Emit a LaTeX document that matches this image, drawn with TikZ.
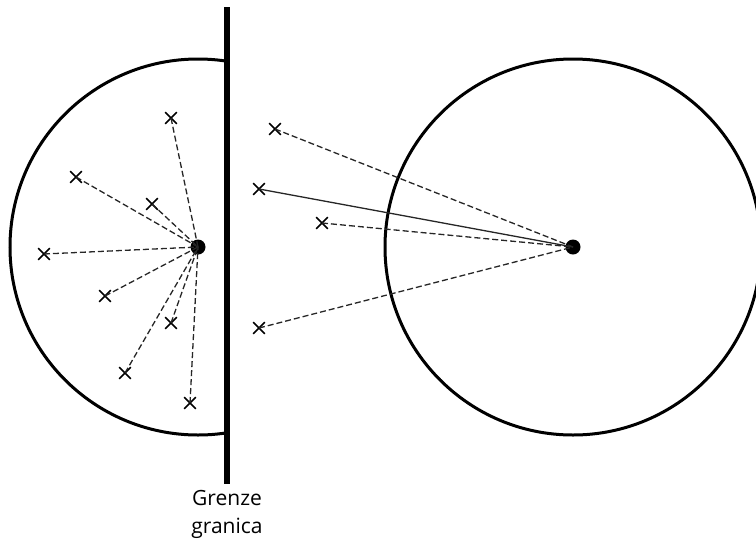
\documentclass[tikz,border=0pt]{standalone}
\usepackage{fontspec}
\setmainfont{Open Sans}
\usetikzlibrary{positioning,shapes.misc}
\tikzset{
    mark x/.style={cross out,draw,line width=1.7pt,minimum size=10pt,inner sep=0pt},
    centre dot/.style={circle,fill,inner sep=0pt,minimum size=15pt},
    ray/.style={dash pattern=on 6pt off 3pt,line width=1.3pt,draw=black!85},
    zone/.style={line width=3pt},
    boundary/.style={line width=6pt},
}
\begin{document}
\begin{tikzpicture}[x=1pt,y=-1pt]
    \useasboundingbox (0,0) rectangle (756,547);

    % centres
    \node[centre dot] (lc) at (198,247) {};
    \node[centre dot] (rc) at (573,247) {};

    % points on the near side
    \node[mark x] (l1) at (171,118) {};
    \node[mark x] (l2) at (76,177) {};
    \node[mark x] (l3) at (152,204) {};
    \node[mark x] (l4) at (44,254) {};
    \node[mark x] (l5) at (105,296) {};
    \node[mark x] (l6) at (171,323) {};
    \node[mark x] (l7) at (125,373) {};
    \node[mark x] (l8) at (190,403) {};

    % points across the border
    \node[mark x] (r1) at (275,129) {};
    \node[mark x] (r2) at (259,189) {};
    \node[mark x] (r3) at (322,223) {};
    \node[mark x] (r4) at (259,328) {};

    % circles
    \begin{scope}
        \clip (0,0) rectangle (227,547);
        \draw[zone] (lc.center) circle[radius=188pt];
    \end{scope}
    \draw[zone] (rc.center) circle[radius=188pt];

    % rays
    \foreach \p in {l1,l2,l3,l4,l5,l6,l7,l8}
        \draw[ray] (\p.center) -- (lc.center);
    \foreach \p in {r1,r3,r4}
        \draw[ray] (\p.center) -- (rc.center);
    \draw[line width=1.3pt,draw=black!85] (r2.center) -- (rc.center);

    % border
    \coordinate (bt) at (227,7);
    \coordinate (bb) at (227,484);
    \draw[boundary] (bt) -- (bb);
    \node[below=3pt of bb,align=center,font=\fontsize{21}{28}\selectfont] (blabel) {Grenze\\granica};
\end{tikzpicture}
\end{document}
